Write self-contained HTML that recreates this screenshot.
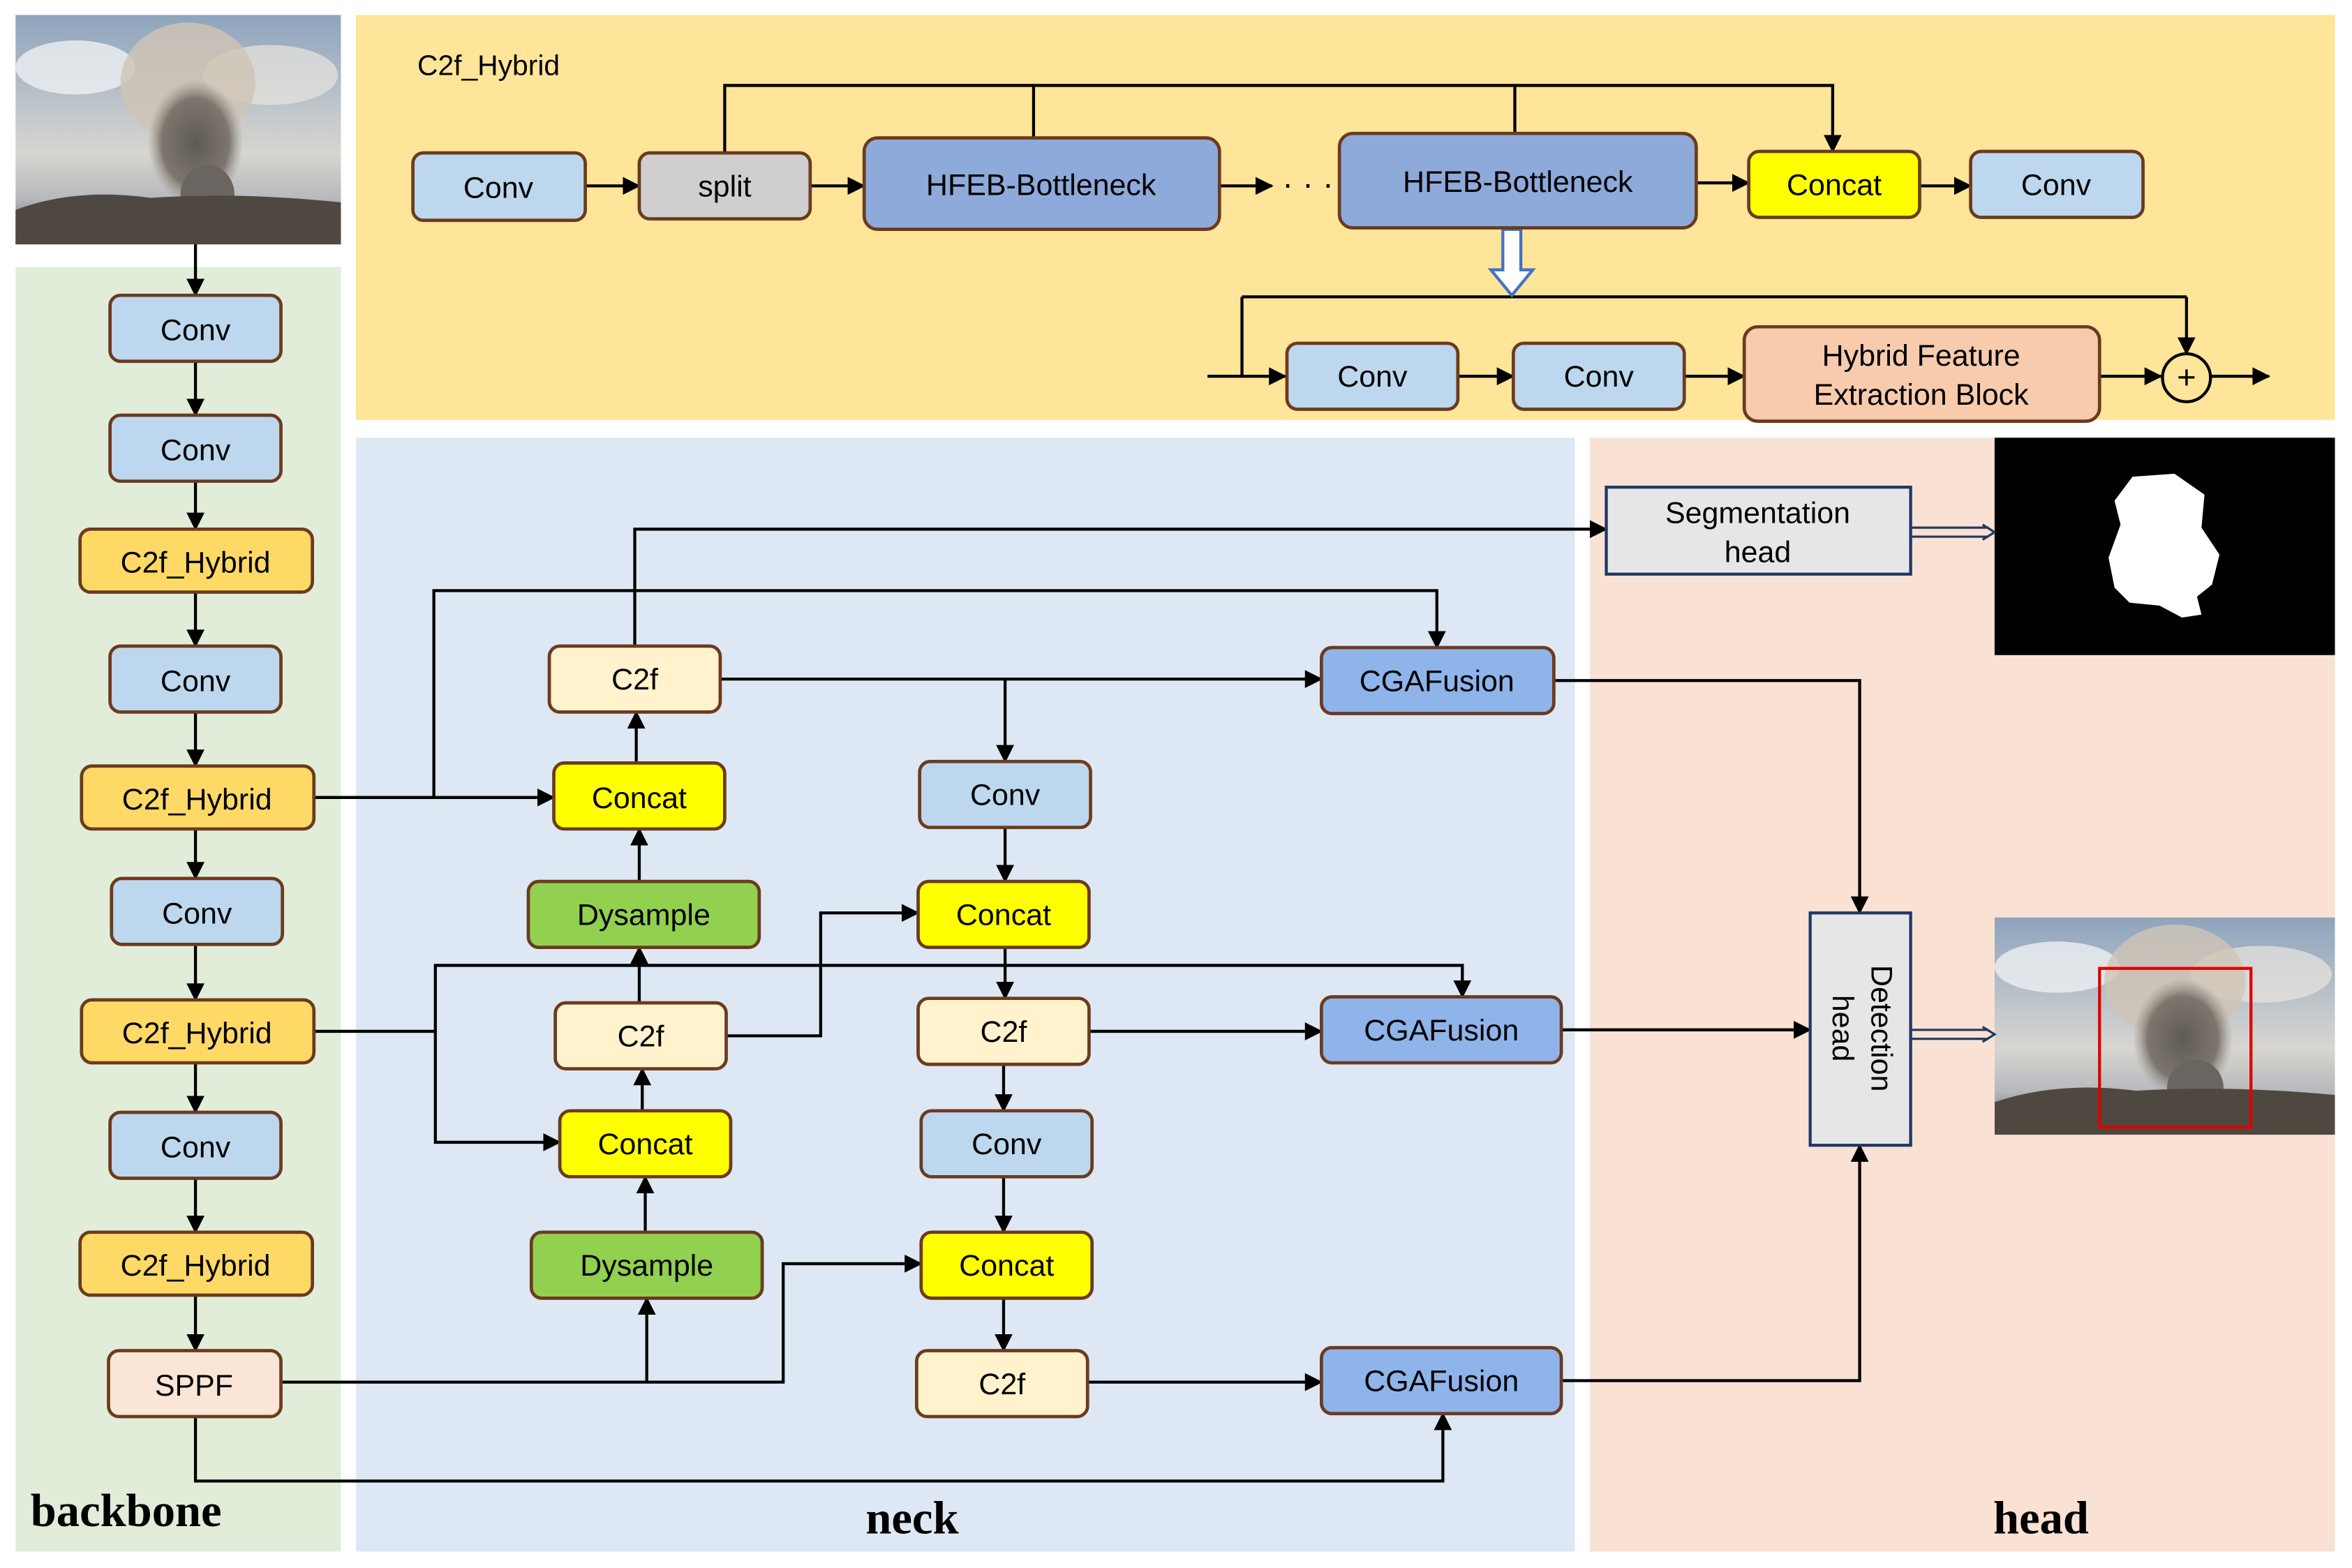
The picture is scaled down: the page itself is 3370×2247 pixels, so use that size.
<!DOCTYPE html>
<html><head><meta charset="utf-8"><style>
html,body{margin:0;padding:0;background:#fff;}
svg{display:block;}
text{font-family:"Liberation Sans",Arial,sans-serif;font-size:20px;fill:#000;}
.b{stroke:#6b3b1e;stroke-width:2.2;}
.l{stroke:#000;stroke-width:2;fill:none;}
</style></head><body>
<svg width="3370" height="2247" viewBox="0 0 1568 1046" xmlns="http://www.w3.org/2000/svg">
<defs>
<marker id="a" markerWidth="12" markerHeight="12" refX="11" refY="6" orient="auto" markerUnits="userSpaceOnUse"><path d="M0,0 L12,6 L0,12 z" fill="#000"/></marker>
<linearGradient id="sky" x1="0" y1="0" x2="0" y2="1"><stop offset="0" stop-color="#8ea4bd"/><stop offset="0.6" stop-color="#d7d6d0"/><stop offset="0.8" stop-color="#b7b9bd"/><stop offset="1" stop-color="#5d5650"/></linearGradient>
<radialGradient id="smk" cx="0.5" cy="0.5" r="0.5"><stop offset="0" stop-color="#5f5a55"/><stop offset="0.7" stop-color="#7d766e"/><stop offset="1" stop-color="#9c958c" stop-opacity="0"/></radialGradient>
<g id="photo">
<rect width="217" height="153" fill="url(#sky)"/>
<ellipse cx="40" cy="35" rx="40" ry="18" fill="#eef0f2" opacity="0.8"/>
<ellipse cx="170" cy="40" rx="45" ry="20" fill="#e8e6e0" opacity="0.7"/>
<ellipse cx="115" cy="45" rx="45" ry="40" fill="#cfc4b5" opacity="0.8"/>
<ellipse cx="120" cy="85" rx="32" ry="42" fill="url(#smk)"/>
<ellipse cx="128" cy="120" rx="18" ry="20" fill="#6a6560"/>
<path d="M0,130 Q40,115 90,122 Q150,118 217,125 L217,153 L0,153 z" fill="#4e4841"/>
</g>
</defs>

<use href="#photo" x="10" y="10"/>
<rect x="10" y="178" width="217" height="857" fill="#e2edd9"/>
<rect x="237" y="10" width="1320" height="270" fill="#fee599"/>
<rect x="237" y="292" width="813" height="743" fill="#dde8f4"/>
<rect x="1060" y="292" width="497" height="743" fill="#f9e1d3"/>

<rect x="1330" y="292" width="227" height="145" fill="#000"/>
<path d="M1422,318 L1450,316 L1470,330 L1468,352 L1480,370 L1475,390 L1465,398 L1468,410 L1455,412 L1440,404 L1420,402 L1410,392 L1406,372 L1414,350 L1410,334 z" fill="#fff"/>
<svg x="1330" y="612" width="227" height="145" viewBox="0 0 217 153" preserveAspectRatio="none"><use href="#photo"/></svg>
<rect x="1400" y="646" width="101" height="106" fill="none" stroke="#e00000" stroke-width="2"/>

<text x="278" y="50" style="font-size:19px">C2f_Hybrid</text>
<text x="20" y="1018" style="font-family:'Liberation Serif',serif;font-weight:bold;font-size:31px">backbone</text>
<text x="608" y="1023" text-anchor="middle" style="font-family:'Liberation Serif',serif;font-weight:bold;font-size:31px">neck</text>
<text x="1361" y="1023" text-anchor="middle" style="font-family:'Liberation Serif',serif;font-weight:bold;font-size:31px">head</text>

<g class="l">
<path d="M130,163 V197" marker-end="url(#a)"/>
<path d="M130,241 V277" marker-end="url(#a)"/>
<path d="M130,321 V353" marker-end="url(#a)"/>
<path d="M130,395 V431" marker-end="url(#a)"/>
<path d="M130,475 V511" marker-end="url(#a)"/>
<path d="M130,553 V586" marker-end="url(#a)"/>
<path d="M130,630 V667" marker-end="url(#a)"/>
<path d="M130,709 V742" marker-end="url(#a)"/>
<path d="M130,786 V822" marker-end="url(#a)"/>
<path d="M130,864 V901" marker-end="url(#a)"/>
<path d="M390,124 H426" marker-end="url(#a)"/>
<path d="M540,124 H576" marker-end="url(#a)"/>
<path d="M813,124 H848" marker-end="url(#a)"/>
<path d="M1131,122 H1166" marker-end="url(#a)"/>
<path d="M1280,124 H1314" marker-end="url(#a)"/>
<path d="M483,102 V57 H1222 V101" marker-end="url(#a)"/>
<path d="M689,57 V92 M1010,57 V89"/>
<path d="M1458,198 V236" marker-end="url(#a)"/>
<path d="M828,198 H1458"/>
<path d="M805,251 H857" marker-end="url(#a)"/>
<path d="M828,198 V251"/>
<path d="M972,251 H1009" marker-end="url(#a)"/>
<path d="M1123,251 H1163" marker-end="url(#a)"/>
<path d="M1400,251 H1441" marker-end="url(#a)"/>
<path d="M1474,251 H1513" marker-end="url(#a)"/>
<path d="M209,532 H369" marker-end="url(#a)"/>
<path d="M289,532 V394 H958 V432" marker-end="url(#a)"/>
<path d="M423,431 V353 H1071" marker-end="url(#a)"/>
<path d="M480,453 H881" marker-end="url(#a)"/>
<path d="M670,453 V508" marker-end="url(#a)"/>
<path d="M670,552 V588" marker-end="url(#a)"/>
<path d="M426,588 V553" marker-end="url(#a)"/>
<path d="M424,509 V475" marker-end="url(#a)"/>
<path d="M209,688 H290 V644 H975 V665" marker-end="url(#a)"/>
<path d="M290,688 V762 H373" marker-end="url(#a)"/>
<path d="M484,691 H547 V609 H612" marker-end="url(#a)"/>
<path d="M426,669 V632" marker-end="url(#a)"/>
<path d="M428,741 V713" marker-end="url(#a)"/>
<path d="M430,822 V785" marker-end="url(#a)"/>
<path d="M187,922 H522 V843 H614" marker-end="url(#a)"/>
<path d="M431,922 V866" marker-end="url(#a)"/>
<path d="M130,945 V988 H962 V943" marker-end="url(#a)"/>
<path d="M670,632 V666" marker-end="url(#a)"/>
<path d="M669,710 V741" marker-end="url(#a)"/>
<path d="M669,785 V822" marker-end="url(#a)"/>
<path d="M669,866 V901" marker-end="url(#a)"/>
<path d="M726,688 H881" marker-end="url(#a)"/>
<path d="M725,922 H881" marker-end="url(#a)"/>
<path d="M1036,454 H1240 V609" marker-end="url(#a)"/>
<path d="M1041,687 H1207" marker-end="url(#a)"/>
<path d="M1041,921 H1240 V764" marker-end="url(#a)"/>
</g>
<g stroke="#203864" stroke-width="1.5" fill="none">
<path d="M1274,352 H1326 M1274,358 H1326 M1322,350 L1330,355 L1322,360"/>
<path d="M1274,687 H1326 M1274,693 H1326 M1322,685 L1330,690 L1322,695"/>
</g>
<path d="M1002,153 H1014 V180 H1022 L1008,197 L994,180 H1002 z" fill="#fff" stroke="#4472c4" stroke-width="2"/>
<text x="872" y="130" text-anchor="middle" style="font-size:22px">· · ·</text>
<circle cx="1458" cy="252" r="16" fill="none" stroke="#000" stroke-width="2"/>
<text x="1458" y="259" text-anchor="middle" style="font-size:22px">+</text>

<g class="b">
<rect x="73" y="197" width="114" height="44" rx="7" fill="#bdd7ee"/>
<rect x="73" y="277" width="114" height="44" rx="7" fill="#bdd7ee"/>
<rect x="53" y="353" width="155" height="42" rx="7" fill="#ffd966"/>
<rect x="73" y="431" width="114" height="44" rx="7" fill="#bdd7ee"/>
<rect x="54" y="511" width="155" height="42" rx="7" fill="#ffd966"/>
<rect x="74" y="586" width="114" height="44" rx="7" fill="#bdd7ee"/>
<rect x="54" y="667" width="155" height="42" rx="7" fill="#ffd966"/>
<rect x="73" y="742" width="114" height="44" rx="7" fill="#bdd7ee"/>
<rect x="53" y="822" width="155" height="42" rx="7" fill="#ffd966"/>
<rect x="72" y="901" width="115" height="44" rx="7" fill="#fbe5d6"/>
<rect x="275" y="102" width="115" height="45" rx="7" fill="#bdd7ee"/>
<rect x="426" y="102" width="114" height="44" rx="7" fill="#d0cece"/>
<rect x="576" y="92" width="237" height="61" rx="9" fill="#8eaadb"/>
<rect x="893" y="89" width="238" height="63" rx="9" fill="#8eaadb"/>
<rect x="1166" y="101" width="114" height="44" rx="7" fill="#ffff00"/>
<rect x="1314" y="101" width="115" height="44" rx="7" fill="#bdd7ee"/>
<rect x="858" y="229" width="114" height="44" rx="7" fill="#bdd7ee"/>
<rect x="1009" y="229" width="114" height="44" rx="7" fill="#bdd7ee"/>
<rect x="1163" y="218" width="237" height="63" rx="9" fill="#f8cbad"/>
<rect x="366" y="431" width="114" height="44" rx="7" fill="#fff2cc"/>
<rect x="369" y="509" width="114" height="44" rx="7" fill="#ffff00"/>
<rect x="352" y="588" width="154" height="44" rx="7" fill="#92d050"/>
<rect x="370" y="669" width="114" height="44" rx="7" fill="#fff2cc"/>
<rect x="373" y="741" width="114" height="44" rx="7" fill="#ffff00"/>
<rect x="354" y="822" width="154" height="44" rx="7" fill="#92d050"/>
<rect x="613" y="508" width="114" height="44" rx="7" fill="#bdd7ee"/>
<rect x="612" y="588" width="114" height="44" rx="7" fill="#ffff00"/>
<rect x="612" y="666" width="114" height="44" rx="7" fill="#fff2cc"/>
<rect x="614" y="741" width="114" height="44" rx="7" fill="#bdd7ee"/>
<rect x="614" y="822" width="114" height="44" rx="7" fill="#ffff00"/>
<rect x="611" y="901" width="114" height="44" rx="7" fill="#fff2cc"/>
<rect x="881" y="432" width="155" height="44" rx="7" fill="#8fb4ea"/>
<rect x="881" y="665" width="160" height="44" rx="7" fill="#8fb4ea"/>
<rect x="881" y="899" width="160" height="44" rx="7" fill="#8fb4ea"/>
</g>
<rect x="1071" y="325" width="203" height="58" fill="#e7e6e6" stroke="#203864" stroke-width="2"/>
<rect x="1207" y="609" width="67" height="155" fill="#e7e6e6" stroke="#203864" stroke-width="2"/>

<g text-anchor="middle">
<text x="130" y="227">Conv</text>
<text x="130" y="307">Conv</text>
<text x="130" y="382">C2f_Hybrid</text>
<text x="130" y="461">Conv</text>
<text x="131" y="540">C2f_Hybrid</text>
<text x="131" y="616">Conv</text>
<text x="131" y="696">C2f_Hybrid</text>
<text x="130" y="772">Conv</text>
<text x="130" y="851">C2f_Hybrid</text>
<text x="129" y="931">SPPF</text>
<text x="332" y="132">Conv</text>
<text x="483" y="131">split</text>
<text x="694" y="130">HFEB-Bottleneck</text>
<text x="1012" y="128">HFEB-Bottleneck</text>
<text x="1223" y="130">Concat</text>
<text x="1371" y="130">Conv</text>
<text x="915" y="258">Conv</text>
<text x="1066" y="258">Conv</text>
<text x="1281" y="244">Hybrid Feature</text>
<text x="1281" y="270">Extraction Block</text>
<text x="423" y="460">C2f</text>
<text x="426" y="539">Concat</text>
<text x="429" y="617">Dysample</text>
<text x="427" y="698">C2f</text>
<text x="430" y="770">Concat</text>
<text x="431" y="851">Dysample</text>
<text x="670" y="537">Conv</text>
<text x="669" y="617">Concat</text>
<text x="669" y="695">C2f</text>
<text x="671" y="770">Conv</text>
<text x="671" y="851">Concat</text>
<text x="668" y="930">C2f</text>
<text x="958" y="461">CGAFusion</text>
<text x="961" y="694">CGAFusion</text>
<text x="961" y="928">CGAFusion</text>
<text x="1172" y="349">Segmentation</text>
<text x="1172" y="375">head</text>
</g>
<text transform="translate(1240,686) rotate(90)" text-anchor="middle"><tspan x="0" y="-8">Detection</tspan><tspan x="0" y="18">head</tspan></text>
</svg>
</body></html>
